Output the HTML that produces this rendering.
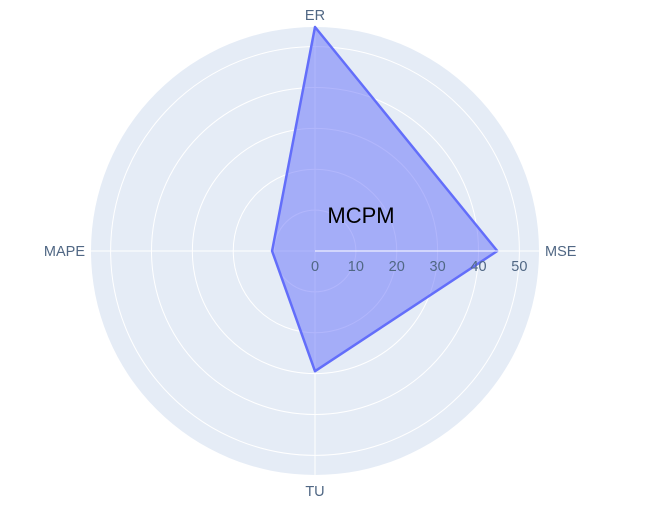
<!DOCTYPE html>
<html><head><meta charset="utf-8"><style>
body{margin:0;background:#fff;font-family:"Liberation Sans",sans-serif}
</style></head><body>
<svg id="chart" width="662" height="508" xmlns="http://www.w3.org/2000/svg"></svg>
<script>
const categories=["ER","MSE","TU","MAPE"];
const values=[54.8,44.6,29.4,10.5];
const tickValues=[0,10,20,30,40,50];
const rMax=54.8;
const NS="http://www.w3.org/2000/svg";
const svg=document.getElementById('chart');
const cx=315,cy=251,R=224;
const rs=v=>v/rMax*R;
function ang(i){return -Math.PI/2+i*2*Math.PI/categories.length;}
function mk(t,a,p){const e=document.createElementNS(NS,t);for(const k in a)e.setAttribute(k,a[k]);(p||svg).appendChild(e);return e;}
const bg=mk('circle',{cx,cy,r:R,fill:'#e5ecf6'});


tickValues.forEach(v=>{if(v>0){const c=mk('circle',{cx,cy,r:rs(v),fill:'none',stroke:'#fff','stroke-width':1});

}});
categories.forEach((c,i)=>{const a=ang(i);
const l=mk('line',{x1:cx,y1:cy,x2:cx+R*Math.cos(a),y2:cy+R*Math.sin(a),stroke:'#fff','stroke-width':1});


const side=Math.abs(Math.cos(a))>0.1;
const off=side?6:12;
const dy=Math.sin(a)>0.5?9:5;
const t=mk('text',{x:cx+(R+off)*Math.cos(a),y:cy+(R+off)*Math.sin(a)+dy,'font-size':14.5,fill:'#506784','text-anchor':!side?'middle':(Math.cos(a)>0?'start':'end')});
t.textContent=c;

});
const pts=values.map((v,i)=>[cx+rs(v)*Math.cos(ang(i)),cy+rs(v)*Math.sin(ang(i))].join(',')).join(' ');
const poly=mk('polygon',{points:pts,fill:'rgba(99,110,250,0.5)',stroke:'#636efa','stroke-width':2.5,'stroke-linejoin':'round'});


const ax=mk('line',{x1:cx,y1:cy,x2:cx+R,y2:cy,stroke:'#fff','stroke-width':1});


tickValues.forEach(v=>{const t=mk('text',{x:cx+rs(v),y:cy+20,'font-size':14.5,fill:'#506784','text-anchor':'middle'});
t.textContent=v;

});
const title=mk('text',{x:361,y:223,'font-size':22,fill:'#000','text-anchor':'middle'});
title.textContent='MCPM';


</script>
</body></html>
